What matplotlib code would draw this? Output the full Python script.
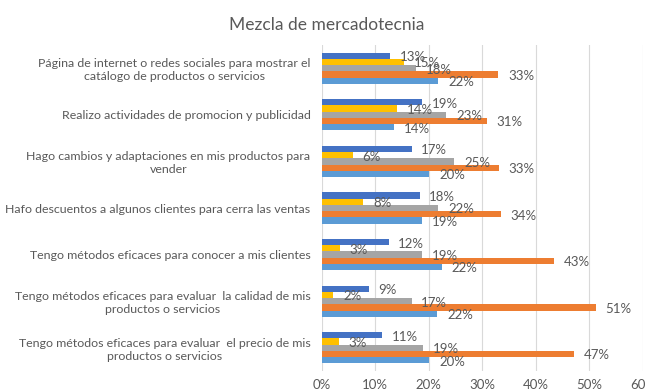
import numpy as np
import matplotlib
matplotlib.use("Agg")
import matplotlib.pyplot as plt
from matplotlib.ticker import PercentFormatter

plt.rcParams['font.family'] = ['Lato', 'DejaVu Sans']

# Datos
categorias = [
    "Página de internet o redes sociales para mostrar el\ncatálogo de productos o servicios",
    "Realizo actividades de promocion y publicidad",
    "Hago cambios y adaptaciones en mis productos para\nvender",
    "Hafo descuentos a algunos clientes para cerra las ventas",
    "Tengo métodos eficaces para conocer a mis clientes",
    "Tengo métodos eficaces para evaluar  la calidad de mis\nproductos o servicios",
    "Tengo métodos eficaces para evaluar  el precio de mis\nproductos o servicios",
]

serie_azul = [0.128, 0.188, 0.168, 0.183, 0.125, 0.088, 0.112]
serie_amarilla = [0.154, 0.141, 0.058, 0.078, 0.034, 0.022, 0.032]
serie_gris = [0.177, 0.233, 0.248, 0.218, 0.188, 0.168, 0.190]
serie_naranja = [0.330, 0.309, 0.331, 0.335, 0.434, 0.512, 0.471]
serie_celeste = [0.218, 0.136, 0.201, 0.188, 0.225, 0.216, 0.201]

series = [serie_azul, serie_amarilla, serie_gris, serie_naranja, serie_celeste]
colores = ["#4472C4", "#FFC000", "#A5A5A5", "#ED7D31", "#5B9BD5"]

texto = "#595959"

fig = plt.figure(figsize=(6.46, 3.91), dpi=100)
ax = fig.add_axes([0.498, 0.051, 0.497, 0.834])

y = np.arange(len(categorias))
alto = 0.134

for i, (vals, color) in enumerate(zip(series, colores)):
    pos = y - 2 * alto + i * alto
    barras = ax.barh(pos, vals, height=alto, color=color, zorder=2)
    for b, v in zip(barras, vals):
        ax.annotate(f"{round(v * 100):.0f}%", (v, b.get_y() + b.get_height() / 2),
                    xytext=(7, -1), textcoords="offset points",
                    ha="left", va="center", fontsize=9.5, color=texto, zorder=3)

ax.set_xlim(0, 0.6)
ax.set_ylim(len(categorias) - 0.5, -0.5)
ax.set_xticks(np.arange(0, 0.61, 0.1))
ax.xaxis.set_major_formatter(PercentFormatter(1.0, decimals=0))
ax.set_yticks(y)
ax.set_yticklabels(categorias, multialignment="center")
ax.tick_params(axis="both", length=0, colors=texto)
ax.tick_params(axis="y", pad=8, labelsize=8.9)
ax.tick_params(axis="x", pad=6, labelsize=9.5)
ax.grid(axis="x", color="#D9D9D9", linewidth=0.8, zorder=0)
for s in ax.spines.values():
    s.set_visible(False)

fig.text(0.505, 0.935, "Mezcla de mercadotecnia", ha="center", va="center",
         fontsize=12.5, color=texto)

fig.savefig("out.png", dpi=100)
